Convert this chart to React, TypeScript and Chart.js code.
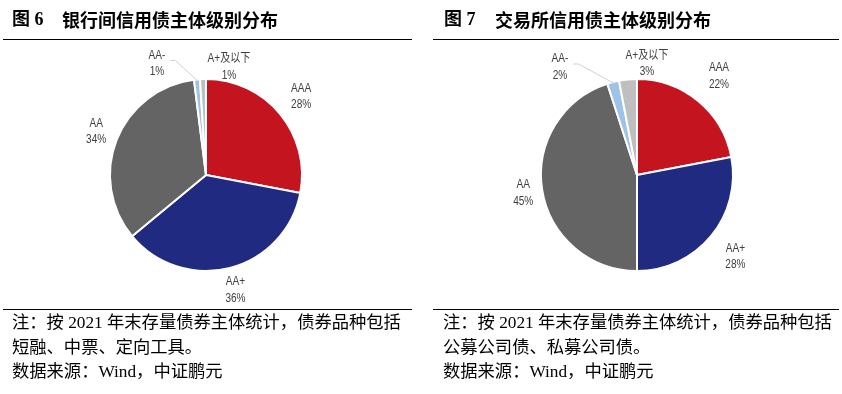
import React, { useEffect, useRef } from "react";
import { Chart, registerables } from "chart.js";

Chart.register(...registerables);

// ---------- data ----------
const categories = ["AAA", "AA+", "AA", "AA-", "A+及以下"];
const interbankValues = [28, 36, 34, 1, 1];
const exchangeValues = [22, 28, 45, 2, 3];
const sliceColors = ["#C3141F", "#1F2A80", "#646464", "#9DC3E6", "#BFBFBF"];

const leftTitleNo = "图 6";
const leftTitle = "银行间信用债主体级别分布";
const rightTitleNo = "图 7";
const rightTitle = "交易所信用债主体级别分布";
const leftNotes = [
  "注：按 2021 年末存量债券主体统计，债券品种包括",
  "短融、中票、定向工具。",
  "数据来源：Wind，中证鹏元",
];
const rightNotes = [
  "注：按 2021 年末存量债券主体统计，债券品种包括",
  "公募公司债、私募公司债。",
  "数据来源：Wind，中证鹏元",
];

const LABEL_FONT = '12px "Liberation Sans", "Noto Sans CJK SC", sans-serif';
const CONDENSE = 0.84;

function drawCondensed(ctx: CanvasRenderingContext2D, text: string, x: number, y: number) {
  ctx.save();
  ctx.translate(x, y);
  ctx.scale(CONDENSE, 1);
  ctx.fillText(text, 0, 0);
  ctx.restore();
}

const pieLabelPlugin = {
  id: "pieLabels",
  afterDatasetsDraw(chart: any, _args: any, opts: any) {
    const ctx = chart.ctx as CanvasRenderingContext2D;
    const meta = chart.getDatasetMeta(0);
    const data = chart.data.datasets[0].data as number[];
    const labels = chart.data.labels as string[];
    ctx.save();
    ctx.font = LABEL_FONT;
    ctx.textAlign = "center";
    ctx.textBaseline = "middle";
    meta.data.forEach((arc: any, i: number) => {
      const p = arc.getProps(["x", "y", "startAngle", "endAngle", "outerRadius"], true);
      const mid = (p.startAngle + p.endAngle) / 2;
      let lx: number, ly: number;
      const off = opts.offsets && opts.offsets[i];
      if (off) {
        lx = p.x + off[0];
        ly = p.y + off[1];
      } else {
        const f = opts.factors[i];
        lx = p.x + Math.cos(mid) * p.outerRadius * f;
        ly = p.y + Math.sin(mid) * p.outerRadius * f;
      }
      if (opts.leaders && opts.leaders.includes(i)) {
        const w = ctx.measureText(labels[i]).width * CONDENSE;
        const sx = lx + w / 2 + 5;
        const sy = ly - 3;
        const ex = p.x + Math.cos(mid) * (p.outerRadius - 1);
        const ey = p.y + Math.sin(mid) * (p.outerRadius - 1);
        ctx.strokeStyle = "#D0D0D0";
        ctx.lineWidth = 1;
        ctx.beginPath();
        ctx.moveTo(sx, sy);
        ctx.lineTo(sx + 5, sy);
        ctx.lineTo(ex, ey);
        ctx.stroke();
      }
      ctx.fillStyle = "#404040";
      drawCondensed(ctx, labels[i], lx, ly - 8);
      drawCondensed(ctx, `${data[i]}%`, lx, ly + 8.5);
    });
    ctx.restore();
  },
};

function PieChart(props: {
  values: number[];
  padding: { left: number; right: number; top: number; bottom: number };
  factors: number[];
  offsets: Record<number, [number, number]>;
  leaders: number[];
  left: number;
}) {
  const ref = useRef<HTMLCanvasElement | null>(null);
  useEffect(() => {
    if (!ref.current) return;
    const chart = new Chart(ref.current, {
      type: "pie",
      data: {
        labels: categories,
        datasets: [
          {
            data: props.values,
            backgroundColor: sliceColors,
            borderColor: "#FFFFFF",
            borderWidth: 2,
            radius: 96,
          } as any,
        ],
      },
      options: {
        responsive: false,
        animation: false,
        events: [],
        layout: { padding: props.padding },
        plugins: {
          legend: { display: false },
          tooltip: { enabled: false },
          pieLabels: {
            factors: props.factors,
            offsets: props.offsets,
            leaders: props.leaders,
          },
        } as any,
      },
      plugins: [pieLabelPlugin as any],
    });
    return () => chart.destroy();
  }, []);
  return (
    <canvas
      ref={ref}
      width={421}
      height={394}
      style={{ position: "absolute", left: props.left, top: 0, width: 421, height: 394 }}
    />
  );
}

const titleCJK: React.CSSProperties = {
  position: "absolute",
  top: 9,
  fontFamily: '"Liberation Serif", "Noto Sans CJK SC", serif',
  fontWeight: 700,
  fontSize: 18,
  lineHeight: "20px",
  whiteSpace: "nowrap",
  color: "#000",
};

const rule = (left: number, top: number, width: number): React.CSSProperties => ({
  position: "absolute",
  left,
  top,
  width,
  height: 0,
  borderTop: "1px solid #000",
});

const noteStyle = (left: number): React.CSSProperties => ({
  position: "absolute",
  left,
  top: 311,
  fontFamily: '"Liberation Serif", "Noto Sans CJK SC", serif',
  fontSize: 17.3,
  lineHeight: "24.5px",
  whiteSpace: "nowrap",
  color: "#000",
});

export default function App() {
  return (
    <div
      style={{
        position: "absolute",
        left: 0,
        top: 0,
        width: 842,
        height: 394,
        background: "#FFFFFF",
        overflow: "hidden",
      }}
    >
      <PieChart
        left={0}
        values={interbankValues}
        padding={{ left: 0, right: 9, top: 0, bottom: 44 }}
        factors={[1.286, 1.235, 1.23, 1.3, 1.3]}
        offsets={{ 3: [-49, -111.5], 4: [23, -108] }}
        leaders={[3]}
      />
      <PieChart
        left={421}
        values={exchangeValues}
        padding={{ left: 11, right: 0, top: 0, bottom: 44 }}
        factors={[1.34, 1.33, 1.2, 1.3, 1.3]}
        offsets={{ 3: [-77, -108], 4: [10, -111.5] }}
        leaders={[3]}
      />

      <span style={{ ...titleCJK, left: 12 }}>{leftTitleNo}</span>
      <span style={{ ...titleCJK, left: 62, fontFamily: '"Noto Sans CJK SC", sans-serif' }}>{leftTitle}</span>
      <span style={{ ...titleCJK, left: 444 }}>{rightTitleNo}</span>
      <span style={{ ...titleCJK, left: 495, fontFamily: '"Noto Sans CJK SC", sans-serif' }}>{rightTitle}</span>

      <div style={rule(3, 39, 409)} />
      <div style={rule(433, 39, 406)} />
      <div style={rule(3, 309, 409)} />
      <div style={rule(433, 309, 406)} />

      <div style={noteStyle(12)}>
        {leftNotes.map((t, i) => (
          <div key={i}>{t}</div>
        ))}
      </div>
      <div style={noteStyle(443)}>
        {rightNotes.map((t, i) => (
          <div key={i}>{t}</div>
        ))}
      </div>
    </div>
  );
}
